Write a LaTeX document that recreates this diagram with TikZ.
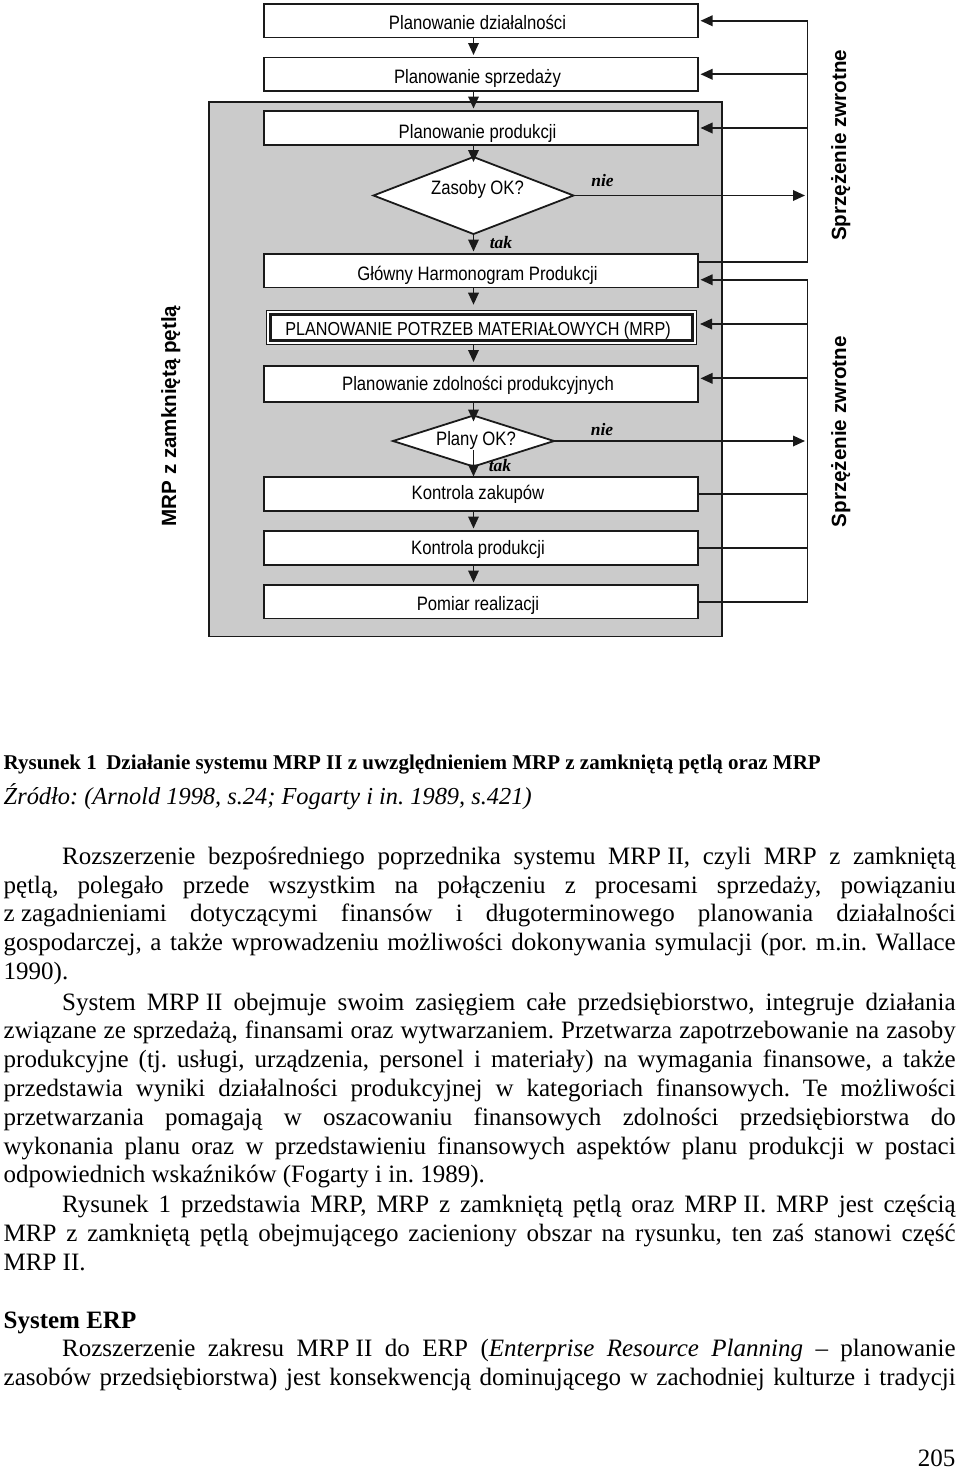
\documentclass[tikz,border=0pt]{standalone}
\usepackage{fontspec}
\setmainfont{Liberation Serif}
\newfontfamily\arial[FakeStretch=0.86]{Liberation Sans}
\newfontfamily\arialb{Liberation Sans Bold}
\usetikzlibrary{arrows.meta,shapes.geometric,calc}
\definecolor{shade}{HTML}{CBCBCB}
\definecolor{ln}{HTML}{1A1A1A}
\newcommand\jline[4]{\node[txt] (#1) at (#2) {\makebox[#3][s]{#4}};}
\frenchspacing
\begin{document}
\begin{tikzpicture}[x=1pt,y=-1pt,
  box/.style={draw=ln, line width=1.8pt, fill=white, minimum width=434pt, inner sep=0pt, outer sep=0pt},
  dia/.style={diamond, draw=ln, line width=1.8pt, fill=white, inner sep=0pt, outer sep=0pt},
  flow/.style={draw=ln, line width=1.8pt, -{Triangle[length=12pt,width=10.5pt]}, shorten >=2.5pt},
  fbline/.style={draw=ln, line width=1.8pt},
  lbl/.style={font=\arial\fontsize{19.4}{22}\selectfont, anchor=base, inner sep=0pt},
  yn/.style={font=\bfseries\itshape\fontsize{17.5}{20}\selectfont, anchor=base, inner sep=0pt},
  vlbl/.style={font=\arialb\fontsize{20.6}{24}\selectfont, anchor=base, rotate=90, inner sep=0pt},
  txt/.style={anchor=base west, inner sep=0pt, font=\fontsize{25}{28.5}\selectfont}]
\useasboundingbox (0,0) rectangle (960,1476);
\fill[white] (0,0) rectangle (960,1476);

% shaded region
\node[draw=ln, line width=1.8pt, fill=shade, minimum width=513pt, minimum height=534.5pt, inner sep=0pt] (grey) at (465.5,369.25) {};

% boxes
\node[box, minimum height=33.5pt] (b1) at (481,20.75) {};
\node[lbl] (t1) at (477.5,29.5) {Planowanie działalności};
\node[box, minimum height=33.5pt] (b2) at (481,74.25) {};
\node[lbl] (t2) at (477.5,83.8) {Planowanie sprzedaży};
\node[box, minimum height=34pt] (b3) at (481,128) {};
\node[lbl] (t3) at (477.5,138.5) {Planowanie produkcji};
\node[dia, minimum width=200pt, minimum height=77pt] (d1) at (473.5,195.5) {};
\node[lbl] (t4) at (477.5,194.5) {Zasoby OK?};
\node[box, minimum height=33.5pt] (ghp) at (481,270.75) {};
\node[lbl] (t5) at (477.5,280.3) {Główny Harmonogram Produkcji};
\node[draw=ln, line width=1pt, fill=white, minimum width=430pt, minimum height=33.6pt, inner sep=0pt, outer sep=0pt] (mrp) at (481,327.5) {};
\draw[ln, line width=3pt] ($(mrp.south west)+(4,-4)$) rectangle ($(mrp.north east)+(-4,4)$);
\node[lbl, font=\arial\fontsize{18.8}{22}\selectfont] (t6) at (478,335.3) {PLANOWANIE POTRZEB MATERIAŁOWYCH (MRP)};
\node[box, minimum height=35.7pt] (zd) at (481,383.85) {};
\node[lbl] (t7) at (478,390.5) {Planowanie zdolności produkcyjnych};
\node[dia, minimum width=161pt, minimum height=51pt] (d2) at (473.5,441) {};
\node[lbl] (t8) at (476,445.5) {Plany OK?};
\node[box, minimum height=33.7pt] (kz) at (481,493.85) {};
\node[lbl] (t9) at (478,499.5) {Kontrola zakupów};
\node[box, minimum height=34pt] (kp) at (481,548) {};
\node[lbl] (t10) at (478,554.5) {Kontrola produkcji};
\node[box, minimum height=33.5pt] (pr) at (481,601.75) {};
\node[lbl] (t11) at (478,610) {Pomiar realizacji};

% main flow
\coordinate (ax) at (473.5,0);
\draw[flow] (b1.south -| ax) -- (b2.north -| ax);
\draw[flow] (b2.south -| ax) -- (b3.north -| ax);
\draw[flow, shorten >=0pt] (b3.south -| ax) -- ($(d1.north)+(0,5)$);
\draw[flow] (d1.south) -- (ghp.north -| ax);
\draw[flow, shorten >=6pt] (ghp.south -| ax) -- (mrp.north -| ax);
\draw[flow, shorten >=4pt] (mrp.south -| ax) -- (zd.north -| ax);
\draw[flow, shorten >=0pt] (zd.south -| ax) -- ($(d2.north)+(0,6)$);
\draw[flow, shorten >=0.5pt] ($(d2.center)+(0,9)$) -- (kz.north -| ax);
\draw[flow] (kz.south -| ax) -- (kp.north -| ax);
\draw[flow] (kp.south -| ax) -- (pr.north -| ax);

% feedback loops
\coordinate (fx) at (807.5,0);
\draw[flow] ($(ghp.east)+(0,-9)$) -- ($(ghp.east -| fx)+(0,-9)$) -- (b1.east -| fx) -- (b1.east);
\draw[flow] (b2.east -| fx) -- (b2.east);
\draw[flow] (b3.east -| fx) -- (b3.east);
\draw[flow] (d1.east) -- (d1.east -| fx);
\draw[flow] (pr.east) -- (pr.east -| fx) -- ($(ghp.east -| fx)+(0,9)$) -- ($(ghp.east)+(0,9)$);
\draw[fbline] (kz.east) -- (kz.east -| fx);
\draw[fbline] (kp.east) -- (kp.east -| fx);
\draw[flow, shorten >=4pt] ($(mrp.east -| fx)+(0,-3.5)$) -- ($(mrp.east)+(0,-3.5)$);
\draw[flow] ($(zd.east -| fx)+(0,-5.5)$) -- ($(zd.east)+(0,-5.5)$);
\draw[flow] (d2.east) -- (d2.east -| fx);

% labels
\node[yn] (n1) at (602.5,186) {nie};
\node[yn] (y1) at (501,248.3) {tak};
\node[yn] (n2) at (602,435.7) {nie};
\node[yn] (y2) at (500,471) {tak};
\node[vlbl] (s1) at (846,145.3) {Sprzężenie zwrotne};
\node[vlbl] (s2) at (846,431.7) {Sprzężenie zwrotne};
\node[vlbl] (m1) at (176,416) {MRP z zamkniętą pętlą};

% caption
\node[txt, font=\bfseries\fontsize{21}{24}\selectfont] (cap) at (3.5,769) {Rysunek 1\hspace{0.45em}Działanie systemu \mbox{MRP II} z uwzględnieniem MRP z zamkniętą pętlą oraz MRP};
\node[txt, font=\itshape\fontsize{24.4}{28.5}\selectfont] (src) at (3.5,804.5) {Źródło: (Arnold 1998, s.24; Fogarty i in. 1989, s.421)};

% body text
\jline{p1a}{62,864}{893.5pt}{Rozszerzenie bezpośredniego poprzednika systemu \mbox{MRP II,} czyli MRP z zamkniętą}
\jline{p1b}{3.5,893}{952pt}{pętlą, polegało przede wszystkim na połączeniu z procesami sprzedaży, powiązaniu}
\jline{p1c}{3.5,921.5}{952pt}{\mbox{z zagadnieniami} dotyczącymi finansów i długoterminowego planowania działalności}
\jline{p1d}{3.5,950.2}{952pt}{gospodarczej, a także wprowadzeniu możliwości dokonywania symulacji (por. m.in. Wallace}
\node[txt] (p1e) at (3.5,979) {1990).};

\jline{p2a}{62,1010}{893.5pt}{System \mbox{MRP II} obejmuje swoim zasięgiem całe przedsiębiorstwo, integruje działania}
\jline{p2b}{3.5,1038.8}{952pt}{związane ze sprzedażą, finansami oraz wytwarzaniem. Przetwarza zapotrzebowanie na zasoby}
\jline{p2c}{3.5,1067.6}{952pt}{produkcyjne (tj. usługi, urządzenia, personel i materiały) na wymagania finansowe, a także}
\jline{p2d}{3.5,1096.4}{952pt}{przedstawia wyniki działalności produkcyjnej w kategoriach finansowych. Te możliwości}
\jline{p2e}{3.5,1125.2}{952pt}{przetwarzania pomagają w oszacowaniu finansowych zdolności przedsiębiorstwa do}
\jline{p2f}{3.5,1154}{952pt}{wykonania planu oraz w przedstawieniu finansowych aspektów planu produkcji w postaci}
\node[txt] (p2g) at (3.5,1182.8) {odpowiednich wskaźników (Fogarty i in. 1989).};

\jline{p3a}{62,1212.6}{893.5pt}{Rysunek 1 przedstawia MRP, MRP z zamkniętą pętlą oraz \mbox{MRP II.} MRP jest częścią}
\jline{p3b}{3.5,1241.4}{952pt}{MRP z zamkniętą pętlą obejmującego zacieniony obszar na rysunku, ten zaś stanowi część}
\node[txt] (p3c) at (3.5,1270.2) {\mbox{MRP II.}};

\node[txt, font=\bfseries\fontsize{25}{28.5}\selectfont] (erp) at (3.5,1328) {System ERP};
\jline{p4a}{62,1356.5}{893.5pt}{Rozszerzenie zakresu \mbox{MRP II} do ERP (\textit{Enterprise Resource Planning} – planowanie}
\jline{p4b}{3.5,1385}{952pt}{zasobów przedsiębiorstwa) jest konsekwencją dominującego w zachodniej kulturze i tradycji}

\node[txt, anchor=base east] (pg) at (955.5,1466.5) {205};
\end{tikzpicture}
\end{document}
